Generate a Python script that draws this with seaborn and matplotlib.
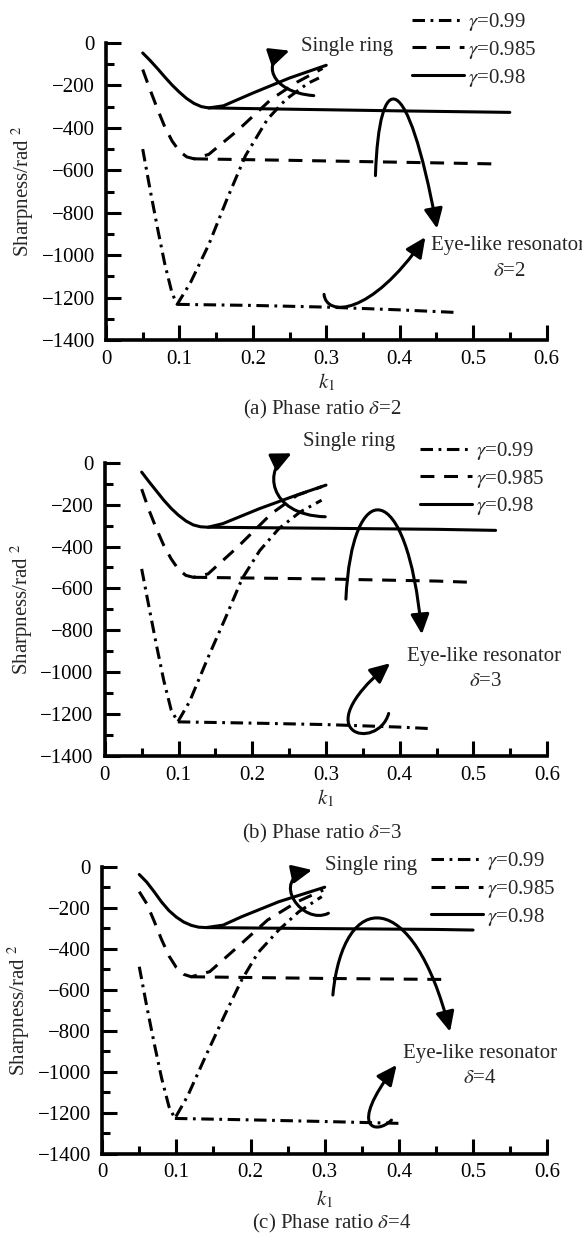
import matplotlib
matplotlib.use("Agg")
import matplotlib.pyplot as plt
import seaborn as sns
from matplotlib.path import Path
from matplotlib.patches import FancyArrowPatch
from matplotlib.ticker import MultipleLocator

# ---------------- data ----------------
gammas = ["0.99", "0.985", "0.98"]
deltas = ["2", "3", "4"]
panel_letters = ["a", "b", "c"]

# Panel (a) delta = 2  -- single ring (V shape) and eye-like resonator (flat)
a_sr_k_098 = [0.05, 0.06, 0.07, 0.08, 0.09, 0.10, 0.11, 0.12, 0.13, 0.14, 0.16, 0.20, 0.25, 0.30]
a_sr_s_098 = [-47, -82, -120, -160, -198, -232, -262, -285, -300, -306, -296, -236, -165, -105]
a_eye_k_098 = [0.14, 0.25, 0.40, 0.55]
a_eye_s_098 = [-306, -312, -320, -327]
a_sr_k_0985 = [0.05, 0.06, 0.07, 0.08, 0.09, 0.10, 0.11, 0.12, 0.14, 0.18, 0.225, 0.26, 0.295]
a_sr_s_0985 = [-125, -220, -310, -395, -462, -510, -537, -546, -525, -410, -265, -185, -120]
a_eye_k_0985 = [0.12, 0.25, 0.40, 0.53]
a_eye_s_0985 = [-546, -553, -562, -570]
a_sr_k_099 = [0.05, 0.06, 0.07, 0.08, 0.09, 0.097, 0.115, 0.14, 0.165, 0.19, 0.22, 0.245, 0.275, 0.29]
a_sr_s_099 = [-500, -690, -870, -1040, -1180, -1232, -1130, -950, -734, -531, -359, -266, -190, -165]
a_eye_k_099 = [0.097, 0.2, 0.3, 0.4, 0.476]
a_eye_s_099 = [-1232, -1237, -1245, -1258, -1270]

# Panel (b) delta = 3
b_sr_k_098 = [0.05, 0.06, 0.07, 0.08, 0.09, 0.10, 0.11, 0.12, 0.13, 0.14, 0.16, 0.21, 0.26, 0.30]
b_sr_s_098 = [-45, -91, -135, -179, -218, -251, -278, -297, -306, -308, -291, -219, -155, -107]
b_eye_k_098 = [0.14, 0.30, 0.45, 0.53]
b_eye_s_098 = [-308, -313, -318, -323]
b_sr_k_0985 = [0.05, 0.06, 0.07, 0.08, 0.09, 0.10, 0.11, 0.12, 0.14, 0.18, 0.226, 0.261, 0.294]
b_sr_s_0985 = [-126, -227, -315, -395, -459, -510, -538, -547, -531, -403, -243, -155, -115]
b_eye_k_0985 = [0.12, 0.30, 0.45, 0.498]
b_eye_s_0985 = [-547, -555, -565, -571]
b_sr_k_099 = [0.05, 0.06, 0.07, 0.08, 0.09, 0.099, 0.115, 0.14, 0.165, 0.186, 0.21, 0.236, 0.265, 0.294]
b_sr_s_099 = [-507, -690, -870, -1040, -1180, -1237, -1140, -930, -730, -555, -420, -315, -235, -179]
b_eye_k_099 = [0.099, 0.2, 0.3, 0.4, 0.44]
b_eye_s_099 = [-1237, -1243, -1250, -1262, -1269]

# Panel (c) delta = 4
c_sr_k_098 = [0.05, 0.06, 0.07, 0.08, 0.09, 0.10, 0.11, 0.12, 0.13, 0.14, 0.163, 0.188, 0.238, 0.30]
c_sr_s_098 = [-38, -75, -122, -172, -214, -246, -270, -286, -295, -297, -285, -244, -171, -100]
c_eye_k_098 = [0.14, 0.30, 0.45, 0.50]
c_eye_s_098 = [-297, -302, -306, -309]
c_sr_k_0985 = [0.05, 0.06, 0.07, 0.08, 0.09, 0.10, 0.11, 0.12, 0.145, 0.183, 0.223, 0.263, 0.298]
c_sr_s_0985 = [-122, -180, -265, -355, -435, -492, -525, -537, -512, -390, -260, -171, -114]
c_eye_k_0985 = [0.12, 0.30, 0.459]
c_eye_s_0985 = [-537, -545, -550]
c_sr_k_099 = [0.05, 0.06, 0.07, 0.08, 0.09, 0.098, 0.115, 0.14, 0.165, 0.188, 0.21, 0.238, 0.265, 0.296]
c_sr_s_099 = [-488, -680, -860, -1030, -1170, -1228, -1120, -920, -725, -553, -420, -309, -220, -146]
c_eye_k_099 = [0.098, 0.2, 0.3, 0.4]
c_eye_s_099 = [-1228, -1235, -1243, -1252]

x_ticks = [0, 0.1, 0.2, 0.3, 0.4, 0.5, 0.6]
y_ticks = [0, -200, -400, -600, -800, -1000, -1200, -1400]

# ---------------- style ----------------
sns.set_theme(style="ticks")
plt.rcParams["font.family"] = ["Liberation Serif", "DejaVu Serif"]
plt.rcParams["mathtext.fontset"] = "stix"
plt.rcParams["lines.scale_dashes"] = False
FS = 15
LW = 2.2
styles = {"0.99": (0, (9, 4, 2, 4)), "0.985": (0, (10, 7)), "0.98": "-"}

fig = plt.figure(figsize=(5.82, 12.38), dpi=100)
H = 1238.0
W = 582.0
# axes boxes in pixels: left, right, top, bottom
boxes = [(106, 546.5, 43, 340), (104.8, 547.2, 462.7, 756), (102.2, 547.2, 866.7, 1153.7)]

series = {
    "a": {"0.98": (a_sr_k_098, a_sr_s_098, a_eye_k_098, a_eye_s_098),
          "0.985": (a_sr_k_0985, a_sr_s_0985, a_eye_k_0985, a_eye_s_0985),
          "0.99": (a_sr_k_099, a_sr_s_099, a_eye_k_099, a_eye_s_099)},
    "b": {"0.98": (b_sr_k_098, b_sr_s_098, b_eye_k_098, b_eye_s_098),
          "0.985": (b_sr_k_0985, b_sr_s_0985, b_eye_k_0985, b_eye_s_0985),
          "0.99": (b_sr_k_099, b_sr_s_099, b_eye_k_099, b_eye_s_099)},
    "c": {"0.98": (c_sr_k_098, c_sr_s_098, c_eye_k_098, c_eye_s_098),
          "0.985": (c_sr_k_0985, c_sr_s_0985, c_eye_k_0985, c_eye_s_0985),
          "0.99": (c_sr_k_099, c_sr_s_099, c_eye_k_099, c_eye_s_099)},
}

# annotation geometry (data coords)
single_ring_text = {"a": (0.266, -16), "b": (0.269, 101), "c": (0.301, 8)}
single_ring_arrow = {
    "a": [(0.283, -248), (0.222, -232), (0.212, -80), (0.250, -36)],
    "b": [(0.299, -258), (0.220, -250), (0.215, -20), (0.2535, 45)],
    "c": [(0.305, -227), (0.270, -290), (0.225, -60), (0.283, -16)],
}
eye_arrow_big = {
    "a": [(0.367, -625), (0.372, -110), (0.410, -110), (0.451, -875)],
    "b": [(0.327, -651), (0.335, -60), (0.410, -60), (0.430, -819)],
    "c": [(0.311, -626), (0.325, -100), (0.420, -100), (0.469, -805)],
}
eye_arrow_small = {
    "a": [(0.297, -1185), (0.300, -1290), (0.360, -1290), (0.435, -915)],
    "b": [(0.385, -1197), (0.370, -1380), (0.270, -1300), (0.387, -957)],
    "c": [(0.390, -1236), (0.370, -1310), (0.330, -1280), (0.397, -967)],
}
eye_text = {"a": (0.443, -953), "b": (0.410, -923), "c": (0.406, -911)}
delta_text = {"a": (0.549, -1078), "b": (0.516, -1043), "c": (0.509, -1033)}
legend_anchor = {"a": (0.695, 1.108), "b": (0.712, 1.078), "c": (0.738, 1.058)}
captions_xy = [(322, 409), (322, 833), (332, 1223)]
klabel_y = [382, 798, 1199]


def curved_arrow(ax, pts):
    path = Path(pts, [Path.MOVETO, Path.CURVE4, Path.CURVE4, Path.CURVE4])
    p = FancyArrowPatch(path=path, arrowstyle="-|>,head_length=0.6,head_width=0.28",
                        mutation_scale=20, lw=LW, color="black",
                        transform=ax.transData, clip_on=False)
    ax.add_patch(p)


for i, pl in enumerate(panel_letters):
    l, r, t, b = boxes[i]
    ax = fig.add_axes([l / W, (H - b) / H, (r - l) / W, (b - t) / H])
    handles = {}
    for g in gammas:
        kx, sy, ek, es = series[pl][g]
        sns.lineplot(x=kx, y=sy, ax=ax, color="black", linewidth=LW,
                     sort=False, estimator=None)
        ax.lines[-1].set_linestyle(styles[g])
        sns.lineplot(x=ek, y=es, ax=ax, color="black", linewidth=LW,
                     sort=False, estimator=None)
        ax.lines[-1].set_linestyle(styles[g])
        handles[g] = ax.lines[-1]

    ax.set_xlim(0, 0.6)
    ax.set_ylim(-1400, 0)
    ax.set_xticks(x_ticks)
    ax.set_xticklabels([("%g" % v) for v in x_ticks])
    ax.set_yticks(y_ticks)
    ax.xaxis.set_minor_locator(MultipleLocator(0.05))
    ax.yaxis.set_minor_locator(MultipleLocator(100))
    for side in ["top", "right"]:
        ax.spines[side].set_visible(False)
    for side in ["left", "bottom"]:
        ax.spines[side].set_linewidth(2.6)
        ax.spines[side].set_color("black")
    ax.tick_params(which="major", direction="in", length=10.5, width=2.2,
                   labelsize=FS, colors="black", pad=7)
    ax.tick_params(which="minor", direction="in", length=6, width=2.2, colors="black")
    ax.tick_params(axis="y", which="major", pad=8)
    ax.set_ylabel("Sharpness/rad $^2$", fontsize=FS, labelpad=4)
    ax.set_xlabel("")
    ax.patch.set_alpha(0)

    # k1 label
    fig.text(0.5 * (l + r) / W, 1 - klabel_y[i] / H, "$k_1$", fontsize=FS,
             ha="center", va="center")

    # legend
    ax.legend(handles=[handles[g] for g in gammas],
              labels=["$\\gamma$=" + g for g in gammas],
              loc="upper left", bbox_to_anchor=legend_anchor[pl],
              frameon=False, fontsize=FS, handlelength=2.5, handletextpad=0.2,
              labelspacing=0.28, borderpad=0, borderaxespad=0)

    # annotations
    ax.text(*single_ring_text[pl], "Single ring", fontsize=FS, ha="left", va="center")
    curved_arrow(ax, single_ring_arrow[pl])
    curved_arrow(ax, eye_arrow_big[pl])
    curved_arrow(ax, eye_arrow_small[pl])
    ax.text(*eye_text[pl], "Eye-like resonator", fontsize=FS, ha="left", va="center")
    ax.text(*delta_text[pl], "$\\delta$=" + deltas[i], fontsize=FS, ha="center", va="center")

    cx, cy = captions_xy[i]
    fig.text(cx / W, 1 - cy / H, "(%s) Phase ratio $\\delta$=%s" % (pl, deltas[i]),
             fontsize=FS, ha="center", va="center")

fig.savefig("out.png", dpi=100, facecolor="white")
